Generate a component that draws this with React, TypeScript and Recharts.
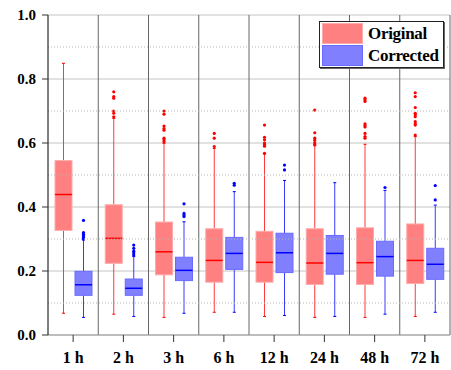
import React from 'react'
import { Bar, CartesianGrid, ComposedChart, ReferenceLine, XAxis, YAxis } from 'recharts'

const categories = ['1 h', '2 h', '3 h', '6 h', '12 h', '24 h', '48 h', '72 h']

// Original
const origMin = [0.068, 0.065, 0.055, 0.071, 0.058, 0.055, 0.055, 0.058]
const origQ1 = [0.327, 0.224, 0.188, 0.165, 0.165, 0.158, 0.158, 0.161]
const origMed = [0.439, 0.302, 0.26, 0.233, 0.227, 0.225, 0.226, 0.233]
const origQ3 = [0.545, 0.407, 0.353, 0.332, 0.324, 0.332, 0.335, 0.347]
const origMax = [0.849, 0.677, 0.599, 0.583, 0.566, 0.594, 0.596, 0.62]
const origOut = [
  [],
  [0.76, 0.745, 0.74, 0.7, 0.693, 0.682],
  [0.7, 0.69, 0.653, 0.645, 0.64, 0.615, 0.61, 0.604],
  [0.63, 0.615, 0.589],
  [0.656, 0.618, 0.61, 0.6, 0.595, 0.59, 0.568],
  [0.703, 0.632, 0.615, 0.608, 0.6, 0.594],
  [0.74, 0.735, 0.73, 0.66, 0.655, 0.65, 0.63, 0.62, 0.615],
  [0.757, 0.745, 0.711, 0.693, 0.688, 0.682, 0.667, 0.66, 0.656, 0.625],
]

// Corrected
const corrMin = [0.055, 0.058, 0.068, 0.071, 0.061, 0.058, 0.065, 0.071]
const corrQ1 = [0.124, 0.124, 0.17, 0.205, 0.195, 0.19, 0.184, 0.174]
const corrMed = [0.157, 0.146, 0.202, 0.255, 0.257, 0.255, 0.245, 0.221]
const corrQ3 = [0.199, 0.175, 0.243, 0.305, 0.318, 0.311, 0.293, 0.271]
const corrMax = [0.297, 0.245, 0.354, 0.448, 0.483, 0.476, 0.452, 0.406]
const corrOut = [
  [0.358, 0.32, 0.315, 0.31, 0.305, 0.3],
  [0.281, 0.271, 0.262, 0.256, 0.25],
  [0.41, 0.38, 0.375, 0.37],
  [0.474, 0.468],
  [0.531, 0.516],
  [],
  [0.461],
  [0.467, 0.422],
]

const yTicks = [0, 0.2, 0.4, 0.6, 0.8, 1.0]
const minorTicks = [0.1, 0.3, 0.5, 0.7, 0.9]

type Stats = {
  min: number[]
  q1: number[]
  med: number[]
  q3: number[]
  max: number[]
  out: number[][]
}
type Colors = { fill: string; edge: string; line: string; whisker: string }

const origStats: Stats = { min: origMin, q1: origQ1, med: origMed, q3: origQ3, max: origMax, out: origOut }
const corrStats: Stats = { min: corrMin, q1: corrQ1, med: corrMed, q3: corrQ3, max: corrMax, out: corrOut }

const RED: Colors = { fill: '#ff8080', edge: '#ffaaaa', line: '#ff0000', whisker: '#ff3a3a' }
const BLUE: Colors = { fill: '#8080ff', edge: '#6a6aff', line: '#0000ff', whisker: '#3a3aff' }

const data = categories.map((cat, idx) => ({
  cat,
  idx,
  orig: [origMin[idx], origMax[idx]],
  corr: [corrMin[idx], corrMax[idx]],
}))

const serif = "'Times New Roman', 'Liberation Serif', Times, serif"

// draws a whole box-and-whisker inside the range bar (min..max) rect
function BoxGlyph(props: any) {
  const { x, y, width, height, payload, s, c } = props
  const i = payload.idx
  const lo = s.min[i]
  const hi = s.max[i]
  const top = Math.min(y, y + height)
  const k = Math.abs(height) / (hi - lo)
  const py = (v: number) => top + (hi - v) * k
  const cx = x + width / 2
  return (
    <g>
      <line x1={cx} x2={cx} y1={py(hi)} y2={py(s.q3[i])} stroke={c.whisker} />
      <line x1={cx} x2={cx} y1={py(s.q1[i])} y2={py(lo)} stroke={c.whisker} />
      <line x1={cx - 1.5} x2={cx + 1.5} y1={py(hi)} y2={py(hi)} stroke={c.line} />
      <line x1={cx - 1.5} x2={cx + 1.5} y1={py(lo)} y2={py(lo)} stroke={c.line} />
      <rect
        x={x}
        y={py(s.q3[i])}
        width={width}
        height={py(s.q1[i]) - py(s.q3[i])}
        fill={c.fill}
        stroke={c.edge}
      />
      <line x1={x} x2={x + width} y1={py(s.med[i])} y2={py(s.med[i])} stroke={c.line} strokeWidth={1.5} />
      {s.out[i].map((v: number, j: number) => (
        <circle key={j} cx={cx} cy={py(v)} r={1.6} fill={c.line} />
      ))}
    </g>
  )
}

function LegendBox() {
  const row = (label: string, c: Colors) => (
    <div style={{ display: 'flex', alignItems: 'center', height: 21, marginBottom: 1 }}>
      <div style={{ width: 39, height: 19, background: c.fill, border: `1px solid ${c.edge}` }} />
      <span style={{ marginLeft: 5, fontFamily: serif, fontWeight: 700, fontSize: 17, letterSpacing: -0.3 }}>
        {label}
      </span>
    </div>
  )
  return (
    <div
      style={{
        position: 'absolute',
        left: 319,
        top: 21,
        width: 121,
        height: 44,
        padding: '1px 0 0 2px',
        background: '#fff',
        border: '1px solid #222',
        boxShadow: '1px 1px 0 #666',
      }}
    >
      {row('Original', RED)}
      {row('Corrected', BLUE)}
    </div>
  )
}

export default function App() {
  return (
    <div style={{ position: 'absolute', left: 0, top: 0, width: 451, height: 370, background: '#fff' }}>
      <ComposedChart
        width={451}
        height={370}
        data={data}
        margin={{ top: 15, right: 1, left: 0, bottom: 0 }}
        barSize={17}
        barGap={3}
      >
        <CartesianGrid vertical={false} stroke="#c4c4c4" />
        <CartesianGrid
          horizontal={false}
          stroke="#666"
          verticalCoordinatesGenerator={({ offset }: any) =>
            categories.map((_, i) => offset.left + ((i + 1) * offset.width) / categories.length)
          }
        />
        {minorTicks.map((t) => (
          <ReferenceLine key={t} y={t} stroke="#b4b4b4" strokeDasharray="1 2" />
        ))}
        <XAxis
          dataKey="cat"
          interval={0}
          height={35}
          tickSize={7}
          tickMargin={10}
          axisLine={{ stroke: '#999' }}
          tickLine={{ stroke: '#333' }}
          tick={{ fill: '#000', fontFamily: serif, fontWeight: 700, fontSize: 16 }}
        />
        <YAxis
          width={48}
          domain={[0, 1]}
          ticks={yTicks}
          tickFormatter={(v: number) => v.toFixed(1)}
          tickSize={6}
          tickMargin={6}
          axisLine={{ stroke: '#000' }}
          tickLine={{ stroke: '#333' }}
          tick={{ fill: '#000', fontFamily: serif, fontWeight: 700, fontSize: 15 }}
        />
        <Bar
          dataKey="orig"
          isAnimationActive={false}
          shape={(p: any) => <BoxGlyph {...p} s={origStats} c={RED} />}
        />
        <Bar
          dataKey="corr"
          isAnimationActive={false}
          shape={(p: any) => <BoxGlyph {...p} s={corrStats} c={BLUE} />}
        />
      </ComposedChart>
      <LegendBox />
    </div>
  )
}
